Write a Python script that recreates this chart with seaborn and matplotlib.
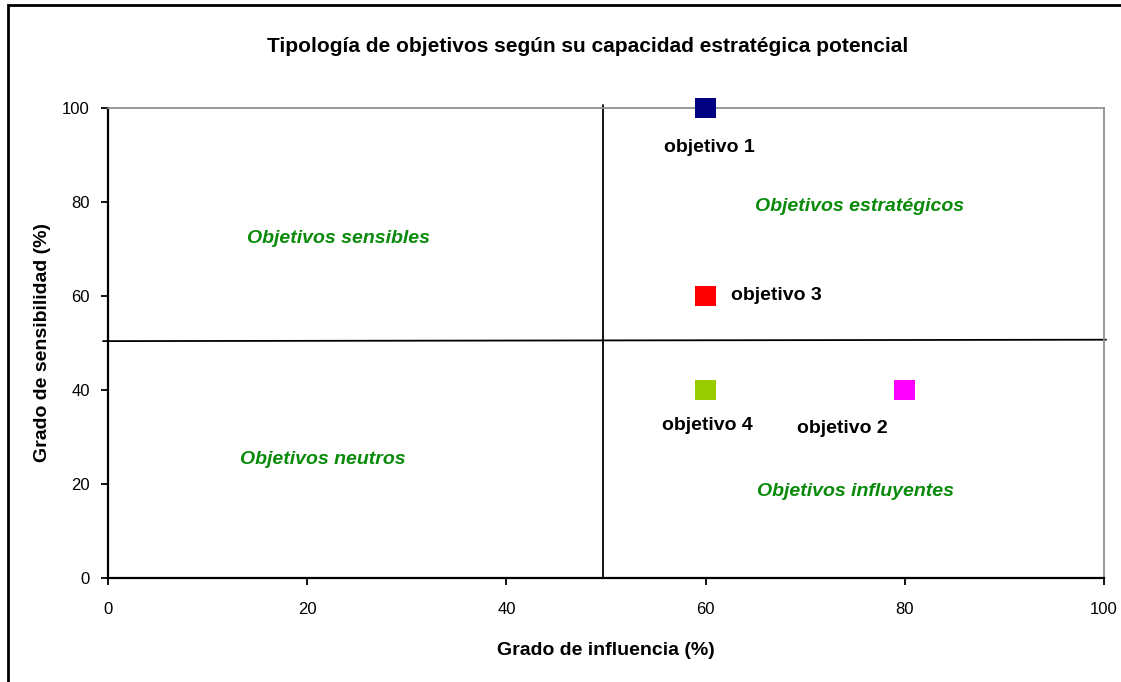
import matplotlib
matplotlib.use("Agg")
import matplotlib.pyplot as plt
import seaborn as sns
import pandas as pd
from matplotlib.patches import Rectangle

# Data
objetivos = ["objetivo 1", "objetivo 2", "objetivo 3", "objetivo 4"]
influencia = [60, 80, 60, 60]
sensibilidad = [100, 40, 60, 40]
colores = ["#000080", "#FF00FF", "#FF0000", "#99CC00"]
label_dx = [0.4, -6.3, 7.1, 0.2]
label_dy = [-8.3, -8.2, 0, -7.6]
cuadrantes = ["Objetivos sensibles", "Objetivos estratégicos", "Objetivos neutros", "Objetivos influyentes"]
cuad_x = [23.1, 75.5, 21.6, 75.1]
cuad_y = [72.3, 79.1, 25.2, 18.3]
ticks = [0, 20, 40, 60, 80, 100]

df = pd.DataFrame({"x": influencia, "y": sensibilidad, "obj": objetivos})

sns.set_theme(style="white")
narrow = ["Liberation Sans Narrow", "Liberation Sans", "DejaVu Sans"]
plt.rcParams["font.family"] = narrow
plt.rcParams["text.color"] = "black"
plt.rcParams["axes.labelcolor"] = "black"
plt.rcParams["xtick.color"] = "black"
plt.rcParams["ytick.color"] = "black"

fig = plt.figure(figsize=(11.21, 6.82), dpi=100)
fig.patch.set_facecolor("white")
# figure border (only left/top visible)
fig.patches.append(Rectangle((8 / 1121, -0.1), 1.2, (682 - 5) / 682 + 0.1,
                             transform=fig.transFigure, fill=False,
                             edgecolor="black", linewidth=2))

ax = fig.add_axes([108 / 1121, (682 - 578) / 682, (1104 - 108) / 1121, (578 - 108) / 682])
ax.set_xlim(0, 100)
ax.set_ylim(0, 100)

# quadrant lines
ax.plot([49.7, 49.7], [0, 100.6], color="black", lw=1.3, clip_on=False, zorder=2)
ax.plot([-0.5, 100.2], [50.4, 50.7], color="black", lw=1.3, clip_on=False, zorder=2)

sns.scatterplot(data=df, x="x", y="y", hue="obj", palette=dict(zip(objetivos, colores)),
                marker="s", s=225, linewidth=0, legend=False, ax=ax, zorder=5, clip_on=False)

for o, xv, yv, dx, dy in zip(objetivos, influencia, sensibilidad, label_dx, label_dy):
    ax.text(xv + dx, yv + dy, o, ha="center", va="center", fontsize=14,
            fontweight="bold", color="black")

for t, xv, yv in zip(cuadrantes, cuad_x, cuad_y):
    ax.text(xv, yv, t, ha="center", va="center", fontsize=14, fontweight="bold",
            fontstyle="italic", color="#0A8A0A")

ax.set_xticks(ticks)
ax.set_yticks(ticks)
ax.set_xticklabels([str(t) for t in ticks], fontsize=12)
ax.set_yticklabels([str(t) for t in ticks], fontsize=12)
ax.tick_params(axis="both", which="both", direction="out", length=5, width=1.3,
               color="black", labelcolor="black", bottom=True, left=True)
ax.tick_params(axis="x", pad=12)
ax.tick_params(axis="y", pad=8)

for side in ["left", "bottom"]:
    ax.spines[side].set_color("black")
    ax.spines[side].set_linewidth(1.6)
for side in ["top", "right"]:
    ax.spines[side].set_color("#909090")
    ax.spines[side].set_linewidth(1.3)

ax.set_xlabel("Grado de influencia (%)", fontsize=14, fontweight="bold", labelpad=18)
ax.set_ylabel("Grado de sensibilidad (%)", fontsize=14, fontweight="bold", labelpad=8)

fig.text(588 / 1121, 1 - 47 / 682, "Tipología de objetivos según su capacidad estratégica potencial",
         ha="center", va="center", fontsize=15, fontweight="bold", color="black")

fig.savefig("out.png", dpi=100)
